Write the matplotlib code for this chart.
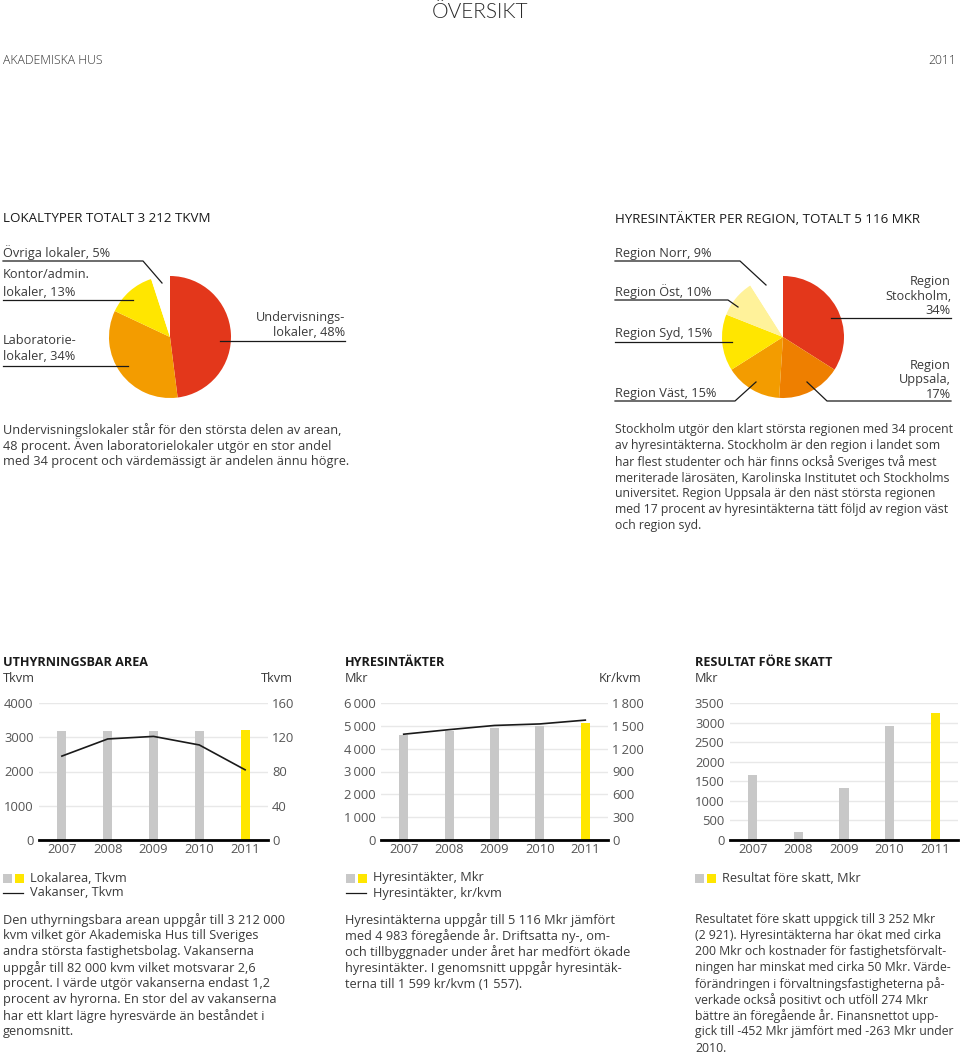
import matplotlib
matplotlib.use("Agg")
import matplotlib.pyplot as plt
from matplotlib.patches import Rectangle

plt.rcParams['font.family'] = ['Open Sans', 'DejaVu Sans']

# Data
lokal_shares = [48, 34, 13, 5]
lokal_colors = ['#E3371B', '#F39C00', '#FFE600', 'white']
region_shares = [34, 17, 15, 15, 10, 9]
region_colors = ['#E3371B', '#EE7F00', '#F39C00', '#FFE600', '#FFF29A', 'white']

years = ['2007', '2008', '2009', '2010', '2011']
area = [3180, 3170, 3175, 3180, 3212]          # Tkvm
vakanser = [98, 118, 121, 111, 82]             # Tkvm
hyres = [4620, 4790, 4900, 4983, 5116]          # Mkr
hyres_kvm = [1390, 1450, 1505, 1525, 1575]      # kr/kvm
resultat = [1660, 215, 1325, 2921, 3252]        # Mkr

bar_colors = ['#C8C8C8'] * 4 + ['#FFE600']
TXT = '#3a3a3a'
W, H = 960, 1053

fig = plt.figure(figsize=(W / 100, H / 100), dpi=100)


def box(x0, y0, x1, y1):
    return [x0 / W, 1 - y1 / H, (x1 - x0) / W, (y1 - y0) / H]


# Pies
for shares, cols, b in [(lokal_shares, lokal_colors, box(109, 276, 231, 398)),
                        (region_shares, region_colors, box(722, 276, 844, 398))]:
    ax = fig.add_axes(b)
    ax.pie(shares, colors=cols, startangle=90, counterclock=False, radius=1)
    ax.set_xlim(-1, 1)
    ax.set_ylim(-1, 1)
    ax.axis('off')


def bar_chart(b, values, ymax, yticks, ylabels, line=None, rmax=None, rticks=None, rlabels=None):
    ax = fig.add_axes(b)
    x = range(len(years))
    ax.bar(x, values, width=0.2, color=bar_colors, zorder=2)
    ax.set_xlim(-0.5, 4.5)
    ax.set_ylim(0, ymax)
    ax.set_yticks(yticks, ylabels)
    ax.set_xticks(list(x), years)
    ax.grid(axis='y', color='#E8E8E8', lw=1, zorder=0)
    ax.set_axisbelow(True)
    for s in ['top', 'left', 'right']:
        ax.spines[s].set_visible(False)
    ax.spines['bottom'].set_linewidth(2)
    ax.spines['bottom'].set_zorder(5)
    ax.tick_params(length=0, labelsize=9.4, labelcolor='#555555')
    ax.tick_params(axis='y', pad=4)
    ax.tick_params(axis='x', pad=2)
    if line is not None:
        ax2 = ax.twinx()
        ax2.plot(list(x), line, color='#1a1a1a', lw=1.2)
        ax2.set_ylim(0, rmax)
        ax2.set_yticks(rticks, rlabels)
        ax2.tick_params(length=0, labelsize=9.4, labelcolor='#555555', pad=3)
        for s in ax2.spines.values():
            s.set_visible(False)
    return ax


bar_chart(box(39, 703, 268, 840), area, 4000,
          [0, 1000, 2000, 3000, 4000], ['0', '1000', '2000', '3000', '4000'],
          vakanser, 160, [0, 40, 80, 120, 160], ['0', '40', '80', '120', '160'])
bar_chart(box(381, 703, 608, 840), hyres, 6000,
          [0, 1000, 2000, 3000, 4000, 5000, 6000],
          ['0', '1\u2009000', '2\u2009000', '3\u2009000', '4\u2009000', '5\u2009000', '6\u2009000'],
          hyres_kvm, 1800, [0, 300, 600, 900, 1200, 1500, 1800],
          ['0', '300', '600', '900', '1\u2009200', '1\u2009500', '1\u2009800'])
bar_chart(box(730, 703, 958, 840), resultat, 3500,
          [0, 500, 1000, 1500, 2000, 2500, 3000, 3500],
          ['0', '500', '1000', '1500', '2000', '2500', '3000', '3500'])

# Overlay for text, leader lines and legends
ov = fig.add_axes([0, 0, 1, 1], zorder=10)
ov.set_xlim(0, W)
ov.set_ylim(H, 0)
ov.axis('off')


def t(x, y, s, size=9.15, **kw):
    kw.setdefault('color', TXT)
    ov.text(x, y, s, va='center', fontsize=size, **kw)


def block(x, y0, lines, step=16, **kw):
    for i, s in enumerate(lines):
        t(x, y0 + i * step, s, **kw)


def seg(xs, ys):
    ov.plot(xs, ys, color='#1a1a1a', lw=0.9)


t(480, 12, 'ÖVERSIKT', size=15, ha='center', fontweight=300, color='#2a2a2a',
  family=['Lato', 'DejaVu Sans'])
t(3, 60, 'AKADEMISKA HUS', size=8.8, fontweight=300, color='#333333')
t(956, 60, '2011', size=8.8, ha='right', fontweight=300, color='#333333')

t(3, 219, 'LOKALTYPER TOTALT 3 212 TKVM', size=9.6, color='#1a1a1a')
t(615, 219, 'HYRESINTÄKTER PER REGION, TOTALT 5 116 MKR', size=9.6, color='#1a1a1a')

# Pie 1 labels
t(3, 253, 'Övriga lokaler, 5%')
seg([3, 143, 162], [261, 261, 283])
block(3, 274, ['Kontor/admin.', 'lokaler, 13%'], step=18)
seg([3, 133], [300, 300])
block(3, 341, ['Laboratorie-', 'lokaler, 34%'], step=16)
seg([3, 128], [366, 366])
block(345, 318, ['Undervisnings-', 'lokaler, 48%'], step=15, ha='right')
seg([220, 345], [341, 341])

# Pie 2 labels
t(615, 253, 'Region Norr, 9%')
seg([615, 740, 766], [261, 261, 285])
t(615, 292, 'Region Öst, 10%')
seg([615, 728, 738], [300, 300, 307])
t(615, 333, 'Region Syd, 15%')
seg([615, 732], [342, 342])
t(615, 393, 'Region Väst, 15%')
seg([615, 735, 756], [401, 401, 382])
block(951, 282, ['Region', 'Stockholm,', '34%'], step=14, ha='right')
seg([831, 951], [318, 318])
block(951, 366, ['Region', 'Uppsala,', '17%'], step=14, ha='right')
seg([807, 827, 951], [382, 401, 401])

block(3, 430, ['Undervisningslokaler står för den största delen av arean,',
               '48 procent. Även laboratorielokaler utgör en stor andel',
               'med 34 procent och värdemässigt är andelen ännu högre.'])
block(615, 430, ['Stockholm utgör den klart största regionen med 34 procent',
                 'av hyresintäkterna. Stockholm är den region i landet som',
                 'har flest studenter och här finns också Sveriges två mest',
                 'meriterade lärosäten, Karolinska Institutet och Stockholms',
                 'universitet. Region Uppsala är den näst största regionen',
                 'med 17 procent av hyresintäkterna tätt följd av region väst',
                 'och region syd.'], size=8.8)

# Bar chart titles
for x, title in [(3, 'UTHYRNINGSBAR AREA'), (345, 'HYRESINTÄKTER'), (695, 'RESULTAT FÖRE SKATT')]:
    t(x, 663, title, size=9.1, fontweight='bold', color='#1a1a1a')
t(3, 678, 'Tkvm')
t(293, 678, 'Tkvm', ha='right')
t(345, 678, 'Mkr')
t(641, 678, 'Kr/kvm', ha='right')
t(695, 678, 'Mkr')


def legend_squares(x, y):
    ov.add_patch(Rectangle((x, y - 4.5), 9, 9, color=bar_colors[0], lw=0))
    ov.add_patch(Rectangle((x + 12, y - 4.5), 9, 9, color=bar_colors[-1], lw=0))


legend_squares(3, 878)
t(30, 878, 'Lokalarea, Tkvm')
seg([3, 23], [893, 893])
t(30, 893, 'Vakanser, Tkvm')
legend_squares(346, 878)
t(373, 878, 'Hyresintäkter, Mkr')
seg([346, 366], [893, 893])
t(373, 893, 'Hyresintäkter, kr/kvm')
legend_squares(695, 878)
t(722, 878, 'Resultat före skatt, Mkr')

block(3, 920, ['Den uthyrningsbara arean uppgår till 3 212 000',
               'kvm vilket gör Akademiska Hus till Sveriges',
               'andra största fastighetsbolag. Vakanserna',
               'uppgår till 82 000 kvm vilket motsvarar 2,6',
               'procent. I värde utgör vakanserna endast 1,2',
               'procent av hyrorna. En stor del av vakanserna',
               'har ett klart lägre hyresvärde än beståndet i',
               'genomsnitt.'])
block(345, 920, ['Hyresintäkterna uppgår till 5 116 Mkr jämfört',
                 'med 4 983 föregående år. Driftsatta ny-, om-',
                 'och tillbyggnader under året har medfört ökade',
                 'hyresintäkter. I genomsnitt uppgår hyresintäk-',
                 'terna till 1 599 kr/kvm (1 557).'])
block(695, 920, ['Resultatet före skatt uppgick till 3 252 Mkr',
                 '(2 921). Hyresintäkterna har ökat med cirka',
                 '200 Mkr och kostnader för fastighetsförvalt-',
                 'ningen har minskat med cirka 50 Mkr. Värde-',
                 'förändringen i förvaltningsfastigheterna på-',
                 'verkade också positivt och utföll 274 Mkr',
                 'bättre än föregående år. Finansnettot upp-',
                 'gick till -452 Mkr jämfört med -263 Mkr under',
                 '2010.'], size=8.8)

fig.savefig('out.png', dpi=100)
